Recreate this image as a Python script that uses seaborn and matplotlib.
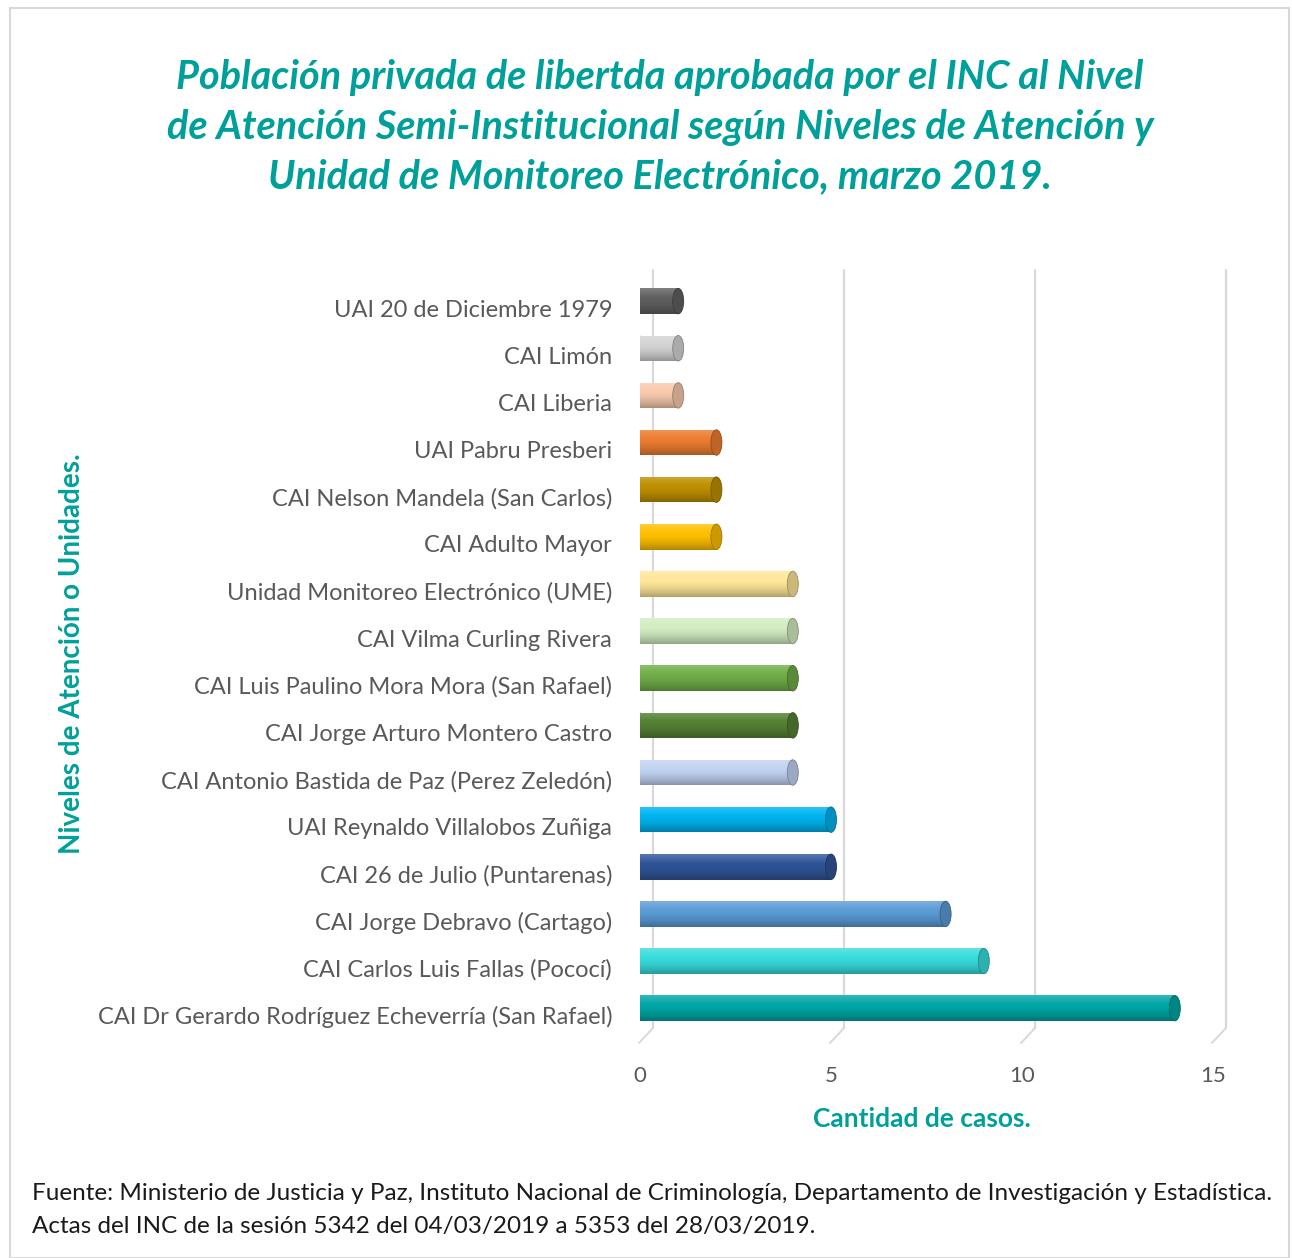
import numpy as np
import pandas as pd
import matplotlib
matplotlib.use("Agg")
import matplotlib.pyplot as plt
import matplotlib.transforms as mtransforms
from matplotlib.patches import Ellipse, Rectangle
from matplotlib.colors import to_rgb
import seaborn as sns

categories = [
    "UAI 20 de Diciembre 1979",
    "CAI Limón",
    "CAI Liberia",
    "UAI Pabru Presberi",
    "CAI Nelson Mandela (San Carlos)",
    "CAI Adulto Mayor",
    "Unidad Monitoreo Electrónico (UME)",
    "CAI Vilma Curling Rivera",
    "CAI Luis Paulino Mora Mora (San Rafael)",
    "CAI Jorge Arturo Montero Castro",
    "CAI Antonio Bastida de Paz (Perez Zeledón)",
    "UAI Reynaldo Villalobos Zuñiga",
    "CAI 26 de Julio (Puntarenas)",
    "CAI Jorge Debravo (Cartago)",
    "CAI Carlos Luis Fallas (Pococí)",
    "CAI Dr Gerardo Rodríguez Echeverría (San Rafael)",
]
values = [1, 1, 1, 2, 2, 2, 4, 4, 4, 4, 4, 5, 5, 8, 9, 14]
bar_colors = [
    "#606060", "#D4D4D4", "#F8CBAD", "#ED7D31", "#BF9000", "#FFC000",
    "#FFE699", "#D2EDC2", "#70AD47", "#548235", "#C2D3F2", "#00B4F0",
    "#2F5597", "#5B9BD5", "#38DCDC", "#00A6A6",
]
x_ticks = [0, 5, 10, 15]

title_text = ("Población privada de libertda aprobada por el INC al Nivel\n"
              "de Atención Semi-Institucional según Niveles de Atención y\n"
              "Unidad de Monitoreo Electrónico, marzo 2019.")
ylabel_text = "Niveles de Atención o Unidades."
xlabel_text = "Cantidad de casos."
source_text = ("Fuente: Ministerio de Justicia y Paz, Instituto Nacional de Criminología, "
               "Departamento de Investigación y Estadística.\n"
               "Actas del INC de la sesión 5342 del 04/03/2019 a 5353 del 28/03/2019.")

TEAL = "#00A09A"
FONT = ["Lato", "DejaVu Sans"]

sns.set_theme(style="white")
plt.rcParams["font.family"] = FONT

W, H = 1292, 1258
fig = plt.figure(figsize=(W / 100, H / 100), dpi=100)
ax = fig.add_axes([640 / W, 1 - 1028 / H, 573 / W, (1028 - 270) / H])

df = pd.DataFrame({"cat": categories, "val": values})
sns.barplot(data=df, x="val", y="cat", hue="cat", palette=bar_colors,
            orient="h", width=0.54, legend=False, ax=ax, saturation=1,
            linewidth=0, zorder=3)

ax.set_xlim(0, 15)
ax.set_ylim(15.42, -0.66)

px_per_unit = 573 / 15.0
cap_w = 11 / px_per_unit

def shade(c, f):
    c = np.array(to_rgb(c))
    if f >= 0:
        return tuple(c + (1 - c) * f)
    return tuple(c * (1 + f))

for patch, col in zip(ax.patches, bar_colors):
    x0, y0 = patch.get_x(), patch.get_y()
    w, h = patch.get_width(), patch.get_height()
    n = 64
    t = np.linspace(0, 1, n)
    prof = np.where(t < 0.35, 0.2 * (1 - t / 0.35), -0.3 * ((t - 0.35) / 0.65) ** 1.6)
    base = np.array(to_rgb(col))
    rows = [base + (1 - base) * p if p >= 0 else base * (1 + p) for p in prof]
    img = np.array(rows).reshape(n, 1, 3)
    im = ax.imshow(img, extent=[x0, x0 + w, y0 + h, y0], aspect="auto",
                   interpolation="bilinear", zorder=3.5, origin="upper")
    im.set_clip_path(patch)
    ax.add_patch(Ellipse((x0, y0 + h / 2), cap_w * 0.8, h, facecolor=shade(col, -0.08),
                         edgecolor="none", zorder=3.4))
    ax.add_patch(Ellipse((x0 + w, y0 + h / 2), cap_w, h, facecolor=shade(col, -0.2),
                         edgecolor=shade(col, -0.38), linewidth=0.6, zorder=3.6))

ax.set_aspect("auto")
ax.set_xlim(0, 15)
ax.set_ylim(15.42, -0.66)

off = mtransforms.ScaledTranslation(13 / 100, 0, fig.dpi_scale_trans)
gtrans = ax.get_xaxis_transform() + off
dtr = ax.get_xaxis_transform()
for xv in x_ticks:
    ax.plot([xv, xv], [0, 1], transform=gtrans, color="#D9D9D9", lw=1.6,
            zorder=1, clip_on=False)
    ax.plot([xv + 13 / px_per_unit, xv - 1 / px_per_unit], [0, -15 / 758],
            transform=dtr, color="#D9D9D9", lw=1.4, zorder=1, clip_on=False)

for s in ax.spines.values():
    s.set_visible(False)
ax.grid(False)
ax.set_xticks(x_ticks)
ax.set_xticklabels([str(v) for v in x_ticks])
ax.tick_params(axis="x", length=0, pad=27, labelsize=16, labelcolor="#595959")
ax.tick_params(axis="y", length=0, pad=20, labelsize=17, labelcolor="#595959")
ax.set_xlabel("")
ax.set_ylabel("")
yoff = mtransforms.ScaledTranslation(0, -7 / 100, fig.dpi_scale_trans)
for lab in ax.get_yticklabels():
    lab.set_transform(lab.get_transform() + yoff)

fig.text(660 / W, 1 - 127 / H, title_text, ha="center", va="center",
         fontsize=28.5, fontweight="bold", fontstyle="italic", color=TEAL,
         linespacing=1.43)
fig.text(72 / W, 1 - 654 / H, ylabel_text, ha="center", va="center",
         rotation=90, fontsize=20, fontweight="bold", color=TEAL)
fig.text(922 / W, 1 - 1119 / H, xlabel_text, ha="center", va="center",
         fontsize=19, fontweight="bold", color=TEAL)
fig.text(32 / W, 1 - 1210 / H, source_text, ha="left", va="center",
         fontsize=17.5, color="#1A1A1A", linespacing=1.7)

fig.patches.append(Rectangle((10 / W, 0), (1289 - 10) / W, 1 - 8 / H,
                             transform=fig.transFigure, fill=False,
                             edgecolor="#D9D9D9", linewidth=1.5))

fig.savefig("out.png", dpi=100, facecolor="white")
